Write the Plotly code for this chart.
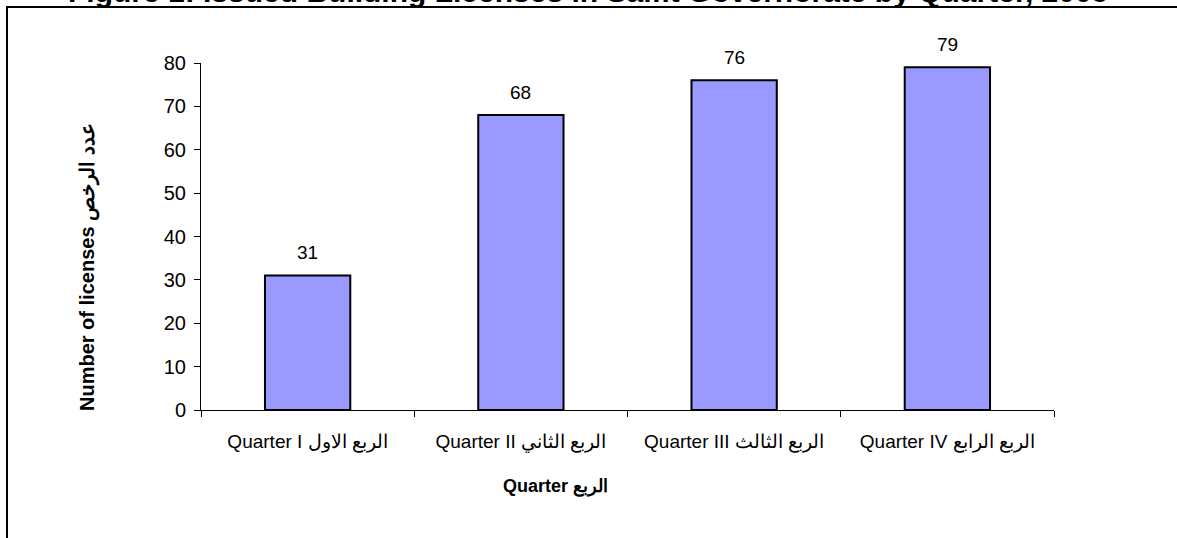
import plotly.graph_objects as go

categories = ["Quarter I الربع الاول", "Quarter II الربع الثاني",
              "Quarter III الربع الثالث", "Quarter IV الربع الرابع"]
licenses = [31, 68, 76, 79]
y_ticks = [0, 10, 20, 30, 40, 50, 60, 70, 80]

title_text = "Figure 1: Issued Building Licenses in Salfit Governorate by Quarter, 2005"
x_title = "Quarter الربع"
y_title = "Number of licenses عدد الرخص"

FONT = "Arial, Liberation Sans, sans-serif"

# plot area in pixels: x 201..1054, y 63..410
W, H = 1177, 538
L, R, T, B = 201, 1054, 63, 410
pw, ph = R - L, B - T


def xp(px):
    return (px - L) / pw


def yp(py):
    return (B - py) / ph


fig = go.Figure()
fig.add_trace(go.Bar(
    x=categories, y=licenses,
    marker=dict(color="#9999FF", line=dict(color="black", width=2)),
    width=0.4, showlegend=False, hoverinfo="skip",
))

annotations = []
for c, v in zip(categories, licenses):
    annotations.append(dict(x=c, y=v, xref="x", yref="y", text=str(v),
                            showarrow=False, yshift=23, yanchor="middle",
                            font=dict(family=FONT, size=19, color="black")))

annotations.append(dict(x=xp(588), y=yp(-8), xref="paper", yref="paper",
                        text="<b>" + title_text + "</b>", showarrow=False,
                        xanchor="center", yanchor="middle",
                        font=dict(family=FONT, size=30, color="black")))
annotations.append(dict(x=xp(555), y=yp(486), xref="paper", yref="paper",
                        text="<b>" + x_title + "</b>", showarrow=False,
                        xanchor="center", yanchor="middle",
                        font=dict(family=FONT, size=18, color="black")))
annotations.append(dict(x=xp(88), y=yp(267), xref="paper", yref="paper",
                        text="<b>" + y_title + "</b>", showarrow=False,
                        textangle=-90, xanchor="center", yanchor="middle",
                        font=dict(family=FONT, size=20, color="black")))

fig.update_layout(
    width=W, height=H,
    margin=dict(l=L, r=W - R, t=T, b=H - B, pad=0),
    paper_bgcolor="white", plot_bgcolor="white",
    annotations=annotations,
    shapes=[dict(type="rect", xref="paper", yref="paper",
                 x0=xp(7), x1=xp(1240), y0=yp(600), y1=yp(7),
                 line=dict(color="black", width=2), layer="below")],
    xaxis=dict(showline=True, linecolor="black", linewidth=1,
               ticks="outside", tickson="boundaries", ticklen=6,
               tickcolor="black", showgrid=False, ticklabelstandoff=14,
               tickfont=dict(family=FONT, size=19, color="black")),
    yaxis=dict(range=[0, 80], tickvals=y_ticks, showline=True,
               linecolor="black", linewidth=1, ticks="outside", ticklen=6,
               tickcolor="black", showgrid=False, zeroline=False,
               ticklabelstandoff=4,
               tickfont=dict(family=FONT, size=20, color="black")),
)

fig.write_html("out.html",
               config={"displayModeBar": False, "staticPlot": True},
               post_script="document.body.style.margin='0';"
                           "document.body.style.overflow='hidden';")
